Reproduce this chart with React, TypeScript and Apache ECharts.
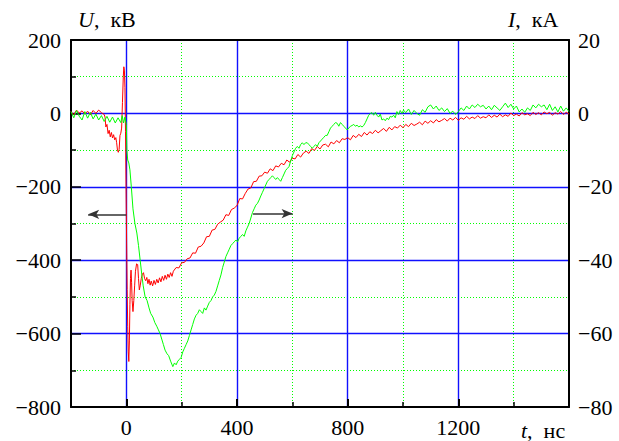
import React, { useEffect, useRef } from "react";
import * as echarts from "echarts";

// Voltage U (kV), left axis
const tRed = [
  -200, -190, -180, -170, -160, -150, -140, -130, -120, -110, -100, -90, -80, -77, -74, -70, -66, -62, -58, -54,
  -50, -46, -42, -38, -35, -32, -29, -26, -23, -20, -17, -14, -11, -9, -7, -5, -3, -1, 1, 3,
  5, 7, 9, 11, 13, 15, 17, 19, 21, 24, 27, 30, 33, 37, 41, 44, 47, 50, 54, 58,
  62, 66, 70, 74, 78, 82, 86, 90, 95, 100, 105, 110, 115, 120, 125, 130, 135, 140, 145, 150,
  155, 160, 165, 170, 180, 190, 200, 210, 220, 230, 240, 250, 260, 270, 280, 290, 300, 310, 320, 330,
  340, 350, 360, 370, 380, 390, 400, 410, 420, 430, 440, 450, 460, 470, 480, 490, 500, 510, 520, 530,
  540, 550, 560, 570, 580, 590, 600, 610, 620, 630, 640, 650, 660, 670, 680, 690, 700, 710, 720, 730,
  740, 750, 760, 770, 780, 790, 800, 810, 820, 830, 840, 850, 860, 870, 880, 890, 900, 910, 920, 930,
  940, 950, 960, 970, 980, 990, 1000, 1010, 1020, 1030, 1040, 1050, 1060, 1070, 1080, 1090, 1100, 1110, 1120, 1130,
  1140, 1150, 1160, 1170, 1180, 1190, 1200, 1210, 1220, 1230, 1240, 1250, 1260, 1270, 1280, 1290, 1300, 1310, 1320, 1330,
  1340, 1350, 1360, 1370, 1380, 1390, 1400, 1410, 1420, 1430, 1440, 1450, 1460, 1470, 1480, 1490, 1500, 1510, 1520, 1530,
  1540, 1550, 1560, 1570, 1580, 1590, 1600,
];
const uRed = [
  5, -3, 9, 1, 7, -2, 6, -4, 8, 0, 9, 2, -3, -10, -37, -30, -55, -46, -64, -52,
  -67, -58, -72, -66, -80, -100, -106, -98, -60, -54, -40, 30, 100, 127, 118, 70, -50, -200, -350, -480,
  -580, -650, -676, -620, -520, -450, -427, -460, -510, -540, -510, -470, -430, -410, -412, -450, -481, -470, -450, -438,
  -434, -450, -456, -447, -464, -452, -468, -457, -470, -455, -466, -452, -462, -448, -459, -444, -455, -441, -452, -438,
  -447, -434, -444, -430, -420, -421, -407, -406, -396, -394, -380, -381, -364, -362, -353, -336, -335, -318, -316, -302,
  -296, -291, -276, -278, -262, -258, -251, -232, -233, -218, -206, -203, -186, -185, -171, -170, -160, -163, -151, -156,
  -143, -146, -136, -140, -127, -133, -122, -124, -112, -119, -108, -103, -109, -96, -101, -90, -97, -86, -84, -91,
  -78, -83, -74, -80, -69, -71, -66, -72, -60, -66, -57, -63, -52, -59, -50, -55, -46, -53, -47, -41,
  -49, -38, -45, -36, -40, -32, -39, -30, -36, -27, -33, -29, -24, -31, -21, -27, -20, -26, -17, -23,
  -19, -14, -21, -13, -18, -11, -19, -12, -16, -8, -15, -10, -14, -6, -13, -9, -12, -4, -11, -5,
  -10, -2, -9, -4, -8, 1, -6, -2, -7, 2, -4, -1, -6, 3, -3, 2, -4, 4, -1, 3,
  -5, 2, -2, 5, -3, 3, -2,
];

// Current I (kA), right axis
const tGreen = [
  -200, -190, -180, -170, -160, -150, -140, -130, -120, -110, -100, -90, -80, -70, -60, -50, -40, -30, -20, -15,
  -10, -5, 0, 2, 5, 9, 13, 18, 24, 31, 38, 44, 50, 56, 61, 68, 75, 82, 88, 96,
  103, 110, 116, 122, 128, 134, 140, 147, 153, 160, 168, 174, 180, 186, 192, 198, 204, 210, 216, 222,
  228, 234, 240, 246, 252, 258, 264, 270, 276, 282, 288, 294, 300, 306, 312, 318, 324, 330, 336, 342,
  348, 354, 360, 366, 372, 378, 384, 390, 396, 402, 408, 414, 420, 426, 432, 438, 444, 450, 456, 462,
  468, 474, 480, 486, 492, 498, 504, 510, 516, 522, 528, 534, 540, 546, 552, 558, 564, 570, 576, 582,
  588, 594, 600, 606, 612, 618, 624, 630, 636, 642, 648, 654, 660, 666, 672, 678, 684, 690, 696, 702,
  708, 714, 720, 726, 732, 738, 744, 750, 756, 762, 768, 774, 780, 786, 792, 798, 804, 810, 816, 822,
  828, 834, 840, 846, 852, 858, 864, 870, 876, 882, 888, 894, 900, 906, 912, 918, 924, 930, 936, 942,
  948, 954, 960, 966, 972, 978, 984, 990, 996, 1002, 1010, 1020, 1030, 1040, 1050, 1060, 1070, 1080, 1090, 1100,
  1110, 1120, 1130, 1140, 1150, 1160, 1170, 1180, 1190, 1200, 1210, 1220, 1230, 1240, 1250, 1260, 1270, 1280, 1290, 1300,
  1310, 1320, 1330, 1340, 1350, 1360, 1370, 1380, 1390, 1400, 1410, 1420, 1430, 1440, 1450, 1460, 1470, 1480, 1490, 1500,
  1510, 1520, 1530, 1540, 1550, 1560, 1570, 1580, 1590, 1600,
];
const iGreen = [
  0.5, -1.2, 0.8, -0.8, -1.8, 0.5, -1.3, 0.3, -1.5, -0.2, -1.8, -0.6, -2.2, -0.8, -2.4, -1, -2.6, -1.2, -2.5, -0.6,
  -2.6, -1, -3, -10, -12.7, -13.5, -15.4, -20, -26, -30, -32.6, -36, -40, -44, -47, -50, -51, -53, -54.5, -55.5,
  -57, -58, -59, -60, -61.5, -63, -64.5, -65.5, -66, -67.5, -69, -68, -68.5, -67.5, -67, -66.5, -65, -64, -63, -62,
  -60.5, -59, -57.5, -56, -55, -54.5, -53.5, -54, -54.5, -53, -53.6, -52.5, -51.5, -51, -50, -49.5, -48.5, -47, -45.5, -44,
  -42, -40.5, -39, -38, -37, -36, -35.5, -35, -34.5, -35, -34, -33.5, -33, -33.5, -32, -31, -30, -28.5, -27, -26,
  -25, -24.5, -23.6, -22.5, -21.5, -20.5, -19.5, -18.5, -18, -17.5, -17, -17.5, -18, -17.5, -18, -18.5, -17.5, -16.5, -15.5, -15,
  -14.5, -13, -11.5, -10.5, -9.5, -9, -9.5, -8.5, -8, -8.5, -8, -8, -8.5, -9, -9.5, -9, -8.5, -9, -8, -7.5,
  -7, -6.5, -6, -6, -5, -4, -3.5, -3, -2.5, -2.7, -3.5, -2.5, -3, -3.5, -4, -4.5, -4, -3.5, -3.3, -3,
  -3.5, -3.2, -3.7, -3.4, -3.7, -3.3, -2.5, -1.5, -0.5, 0, 0.2, -0.5, 0.3, -0.5, -1, -0.2, -1.8, -1.5, -2, -1.3,
  -1.7, -0.8, -1, -0.5, -1.2, 0.5, -0.3, 0.8, 0, 0.9, 0.2, 1.2, -0.3, 0.8, 0, -0.5, 1, 0.3, 1.8, 2.3,
  1.2, 2.0, 0.8, 1.5, 0.5, 1.3, 0, 0.6, -0.3, 0.5, 1.5, 0.8, 2.0, 1.2, 2.3, 1.6, 2.5, 1.8, 2.2, 1.2,
  2.0, 1.0, 2.2, 1.5, 0.8, 1.8, 2.8, 1.6, 2.5, 1.2, 2.0, 0.4, 1.2, 0.3, 1.5, 0.8, 2.3, 1.5, 2.5, 1.8,
  2.3, 1.0, 2.5, 0.8, 1.8, 0.4, 2.0, 0.6, 1.5, 0.5,
];

const X_LABELS = [0, 400, 800, 1200];
const X_MAJOR = [0, 400, 800, 1200];
const X_MINOR = [200, 600, 1000, 1400];
const ARROW_LEFT = { from: [0, -275], to: [-138, -275] };
const ARROW_RIGHT = { from: [458, -273], to: [601, -273] };

const FONT = "Liberation Serif, Times New Roman, serif";
const minus = (v: number) => String(v).replace("-", "\u2212");

export default function App() {
  const ref = useRef<HTMLDivElement>(null);
  useEffect(() => {
    const chart = echarts.init(ref.current!, null, { renderer: "svg" });
    const redData = tRed.map((t, i) => [t, uRed[i]]);
    const greenData = tGreen.map((t, i) => [t, iGreen[i]]);
    const blue = { color: "#1010ff", width: 1.4, type: "solid" };
    const green = { color: "#00ff00", width: 1, type: [1, 2] };
    const axisLine = { show: true, onZero: false, lineStyle: { color: "#000", width: 2 } };
    const label = { fontSize: 22, color: "#000", fontFamily: FONT };
    const titleStyle = (text: string) => ({
      text, fill: "#000", fontSize: 22, fontFamily: FONT,
      rich: { i: { fontStyle: "italic", fontSize: 22, fontFamily: FONT, fill: "#000" }, n: { fontSize: 22, fontFamily: FONT, fill: "#000" } },
    });
    chart.setOption({
      animation: false,
      backgroundColor: "#ffffff",
      textStyle: { fontFamily: FONT },
      grid: { left: 71, right: 50, top: 40, bottom: 34, containLabel: false },
      xAxis: [
        {
          type: "value", min: -200, max: 1600, interval: 200, position: "bottom", z: 1,
          axisLine,
          axisTick: { show: true, inside: true, length: 8, customValues: X_MAJOR, lineStyle: { color: "#000", width: 2 } },
          axisLabel: { show: true, margin: 9, ...label, formatter: (v: number) => (X_LABELS.includes(v) ? minus(v) : "") },
          splitLine: { show: true, showMinLine: true, showMaxLine: true, lineStyle: blue },
        },
        {
          type: "value", min: -200, max: 1600, interval: 200, position: "top", z: 2,
          axisLine,
          axisTick: { show: false }, axisLabel: { show: false }, splitLine: { show: false },
        },
        {
          type: "value", min: -200, max: 1600, interval: 200, position: "bottom", z: 0,
          axisLine: { show: false, onZero: false },
          axisTick: { show: true, inside: true, length: 5, customValues: X_MINOR, lineStyle: { color: "#000", width: 1.5 } },
          axisLabel: { show: false },
          splitLine: { show: true, showMinLine: true, showMaxLine: true, lineStyle: green },
        },
      ],
      yAxis: [
        {
          type: "value", min: -800, max: 200, interval: 200, position: "left", z: 1,
          axisLine,
          axisTick: { show: true, inside: true, length: 10, lineStyle: { color: "#000", width: 1.5 } },
          minorTick: { show: true, splitNumber: 2, length: 5, lineStyle: { color: "#000", width: 1.5 } },
          axisLabel: { margin: 10, ...label, formatter: (v: number) => minus(v) },
          splitLine: { show: true, showMinLine: false, showMaxLine: false, lineStyle: blue },
          minorSplitLine: { show: true, lineStyle: green },
        },
        {
          type: "value", min: -80, max: 20, interval: 20, position: "right", z: 2,
          axisLine,
          axisTick: { show: false },
          axisLabel: { margin: 9, ...label, formatter: (v: number) => minus(v) },
          splitLine: { show: false },
        },
      ],
      series: [
        {
          name: "U", type: "line", data: redData, xAxisIndex: 0, yAxisIndex: 0, z: 3,
          symbol: "none", showSymbol: false, lineStyle: { color: "#ff0000", width: 1 }, silent: true,
          markLine: {
            z: 6, silent: true, symbol: ["none", "arrow"], symbolSize: [7, 11], label: { show: false },
            emphasis: { disabled: true },
            lineStyle: { color: "#333333", type: "solid", width: 1.5 },
            data: [
              [{ coord: ARROW_LEFT.from }, { coord: ARROW_LEFT.to }],
              [{ coord: ARROW_RIGHT.from }, { coord: ARROW_RIGHT.to }],
            ],
          },
        },
        {
          name: "I", type: "line", data: greenData, xAxisIndex: 0, yAxisIndex: 1, z: 4,
          symbol: "none", showSymbol: false, lineStyle: { color: "#00ff00", width: 1 }, silent: true,
        },
      ],
      graphic: [
        { type: "text", left: 78, top: 8, style: titleStyle("{i|U}{n|,\u2002кВ}") },
        { type: "text", left: 508, top: 8, style: titleStyle("{i|I}{n|,\u2002кА}") },
        { type: "text", left: 521, top: 419, style: titleStyle("{i|t}{n|,\u2002нс}") },
      ],
    });
    return () => chart.dispose();
  }, []);
  return (
    <div
      ref={ref}
      style={{ position: "fixed", left: 0, top: 0, width: 619, height: 441, background: "#fff" }}
    />
  );
}
